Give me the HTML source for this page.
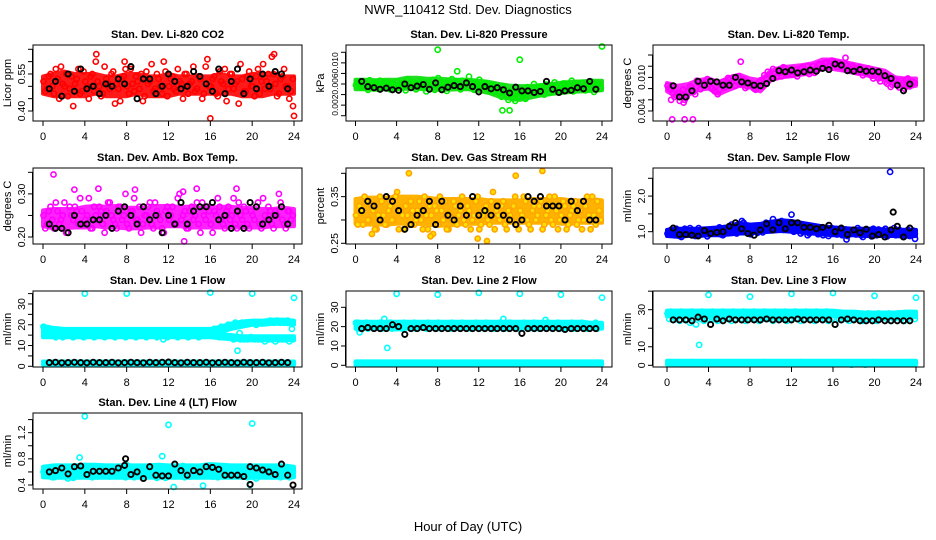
<!DOCTYPE html>
<html><head><meta charset="utf-8"><title>NWR_110412 Std. Dev. Diagnostics</title>
<style>
html,body{margin:0;padding:0;background:#fff;}
svg{display:block;font-family:"Liberation Sans",Arial,sans-serif;}
</style></head>
<body>
<svg id="chart" width="936" height="540" viewBox="0 0 936 540" xmlns="http://www.w3.org/2000/svg">
<text x="468" y="14" text-anchor="middle" font-size="13">NWR_110412  Std. Dev. Diagnostics</text>
<text x="468" y="531" text-anchor="middle" font-size="13">Hour of Day (UTC)</text>
</svg>
<script>
// ---------- data ----------
const xTicks = [0,4,8,12,16,20,24];
const envHours = [0,1,2,3,4,5,6,7,8,9,10,11,12,13,14,15,16,17,18,19,20,21,22,23,24];

const co2A = [0.52,0.49,0.55,0.47,0.53,0.58,0.50,0.46,0.54,0.51,0.57,0.48,0.52,0.45,0.55,0.60,0.50,0.47,0.53,0.49,0.56,0.51,0.44,0.54,0.50,0.57,0.48,0.52,0.55,0.46,0.51,0.59,0.49,0.53,0.47,0.56,0.50,0.54,0.48,0.52,0.45,0.55,0.51,0.58,0.49,0.53,0.47,0.61,0.50,0.54,0.46,0.52,0.57,0.49,0.55,0.51,0.43,0.53,0.48,0.56,0.50,0.54,0.47,0.59,0.52,0.49,0.55,0.46,0.53,0.57,0.50,0.48];
const co2B = [0.48,0.54,0.50,0.57,0.45,0.51,0.55,0.49,0.42,0.53,0.47,0.56,0.50,0.54,0.48,0.52,0.46,0.58,0.51,0.55,0.43,0.49,0.53,0.57,0.47,0.51,0.54,0.49,0.44,0.56,0.52,0.48,0.55,0.50,0.60,0.46,0.53,0.49,0.57,0.51,0.55,0.47,0.52,0.48,0.54,0.45,0.58,0.50,0.53,0.47,0.56,0.51,0.44,0.55,0.49,0.52,0.59,0.48,0.54,0.50,0.46,0.57,0.52,0.49,0.55,0.62,0.51,0.47,0.54,0.50,0.45,0.53];
const co2K = [0.49,0.52,0.46,0.55,0.48,0.57,0.49,0.50,0.47,0.51,0.50,0.53,0.51,0.58,0.45,0.53,0.53,0.47,0.50,0.55,0.52,0.49,0.50,0.56,0.54,0.51,0.48,0.57,0.47,0.52,0.57,0.47,0.53,0.49,0.55,0.50,0.56,0.55,0.49];
const co2OutH = [5.1,7.8,16.0,22.1,24.0,23.9];
const co2OutV = [0.63,0.60,0.37,0.63,0.38,0.42];
const co2Lo = [0.47,0.46,0.46,0.46,0.46,0.47,0.46,0.46,0.46,0.47,0.46,0.46,0.46,0.47,0.47,0.47,0.47,0.47,0.47,0.46,0.46,0.46,0.47,0.47,0.47];
const co2Hi = [0.54,0.55,0.56,0.55,0.55,0.55,0.54,0.54,0.55,0.55,0.54,0.54,0.55,0.54,0.54,0.54,0.54,0.55,0.54,0.54,0.55,0.55,0.55,0.54,0.54];

const prsA = [.0058,.0064,.0055,.0061,.0067,.0052,.0060,.0066,.0057,.0063,.0050,.0059,.0065,.0056,.0062,.0068,.0054,.0061,.0057,.0066,.0052,.0063,.0059,.0049,.0071,.0058,.0064,.0055,.0069,.0061,.0053,.0066,.0060,.0074,.0057,.0063,.0068,.0054,.0061,.0047,.0058,.0050,.0043,.0055,.0039,.0046,.0033,.0042,.0050,.0038,.0054,.0044,.0060,.0047,.0053,.0040,.0057,.0049,.0063,.0045,.0056,.0061,.0051,.0066,.0058,.0053,.0062,.0048,.0059,.0064,.0055,.0060];
const prsB = [.0063,.0053,.0060,.0049,.0056,.0062,.0051,.0058,.0064,.0055,.0061,.0057,.0053,.0060,.0048,.0058,.0064,.0050,.0062,.0055,.0046,.0059,.0068,.0056,.0052,.0062,.0047,.0060,.0056,.0065,.0050,.0058,.0054,.0062,.0049,.0060,.0055,.0062,.0050,.0057,.0045,.0052,.0036,.0048,.0030,.0041,.0028,.0037,.0044,.0032,.0047,.0052,.0041,.0055,.0046,.0059,.0043,.0051,.0056,.0048,.0061,.0050,.0057,.0046,.0062,.0055,.0050,.0058,.0053,.0045,.0060,.0052];
const prsK = [.0065,.0055,.0053,.0050,.0052,.0049,.0048,.0060,.0053,.0056,.0059,.0050,.0062,.0049,.0054,.0057,.0055,.0062,.0055,.0045,.0055,.0051,.0053,.0049,.0043,.0054,.0047,.0047,.0044,.0046,.0065,.0050,.0044,.0047,.0048,.0053,.0051,.0065,.0050];
const prsOutH = [8.0,16.0,24.0,9.9,14.3,15.0];
const prsOutV = [.0125,.0106,.0131,.0084,.0010,.0010];
const prsLo = [.0050,.0050,.0049,.0050,.0050,.0051,.0051,.0050,.0049,.0049,.0050,.0050,.0047,.0043,.0036,.0032,.0030,.0034,.0038,.0041,.0043,.0045,.0046,.0047,.0048];
const prsHi = [.0068,.0068,.0067,.0068,.0068,.0072,.0072,.0070,.0070,.0069,.0068,.0068,.0066,.0064,.0060,.0057,.0056,.0056,.0058,.0060,.0062,.0064,.0065,.0066,.0066];

const tmpA = [.0085,.0078,.0065,.0072,.0068,.0060,.0075,.0082,.0070,.0090,.0086,.0093,.0088,.0080,.0074,.0078,.0092,.0087,.0096,.0100,.0093,.0088,.0096,.0084,.0090,.0080,.0086,.0095,.0104,.0110,.0100,.0107,.0113,.0102,.0116,.0109,.0105,.0114,.0108,.0118,.0112,.0106,.0120,.0115,.0124,.0118,.0127,.0121,.0128,.0119,.0124,.0115,.0121,.0112,.0117,.0109,.0114,.0108,.0116,.0103,.0110,.0098,.0104,.0092,.0100,.0087,.0095,.0082,.0090,.0096,.0084,.0092];
const tmpB = [.0080,.0072,.0068,.0058,.0078,.0065,.0084,.0074,.0094,.0079,.0085,.0097,.0082,.0076,.0070,.0086,.0082,.0099,.0091,.0085,.0102,.0095,.0081,.0090,.0086,.0078,.0092,.0083,.0098,.0105,.0115,.0101,.0108,.0118,.0105,.0113,.0110,.0102,.0116,.0109,.0120,.0113,.0108,.0122,.0117,.0126,.0120,.0130,.0123,.0126,.0118,.0124,.0114,.0120,.0110,.0118,.0104,.0112,.0106,.0098,.0105,.0093,.0101,.0089,.0083,.0097,.0088,.0094,.0080,.0098,.0086,.0090];
const tmpK = [.0085,.0065,.0065,.0076,.0093,.0086,.0093,.0092,.0086,.0086,.0100,.0092,.0090,.0086,.0085,.0089,.0098,.0112,.0110,.0113,.0108,.0110,.0113,.0111,.0116,.0114,.0124,.0122,.0112,.0111,.0114,.0111,.0111,.0110,.0103,.0098,.0086,.0076,.0088];
const tmpOutH = [0.5,1.7,2.5,0.4,1.6,7.1,17.2];
const tmpOutV = [.0025,.0025,.0025,.0060,.0055,.0128,.0135];
const tmpLo = [.0075,.0065,.0068,.0078,.0080,.0070,.0078,.0085,.0082,.0075,.0095,.0100,.0102,.0105,.0108,.0115,.0115,.0112,.0108,.0105,.0100,.0095,.0085,.0082,.0085];
const tmpHi = [.0090,.0085,.0088,.0095,.0098,.0092,.0100,.0105,.0098,.0095,.0112,.0118,.0120,.0122,.0125,.0132,.0132,.0128,.0124,.0120,.0116,.0112,.0100,.0098,.0098];

const ambA = [.25,.23,.27,.22,.26,.24,.28,.21,.25,.27,.23,.26,.24,.29,.22,.25,.27,.23,.26,.28,.24,.22,.27,.25,.23,.26,.29,.24,.21,.25,.27,.23,.28,.25,.22,.26,.24,.27,.23,.30,.25,.22,.26,.24,.28,.21,.25,.27,.23,.26,.29,.24,.22,.27,.25,.23,.28,.24,.26,.22,.25,.27,.23,.29,.24,.26,.22,.25,.28,.23,.26,.24];
const ambB = [.22,.26,.24,.28,.23,.25,.21,.27,.24,.26,.29,.23,.25,.22,.27,.24,.26,.21,.28,.25,.23,.27,.24,.30,.22,.26,.24,.27,.23,.25,.28,.22,.26,.24,.21,.27,.25,.23,.29,.24,.26,.22,.27,.25,.23,.28,.24,.26,.21,.25,.27,.23,.26,.24,.29,.22,.25,.27,.23,.26,.24,.28,.22,.25,.27,.23,.26,.30,.24,.22,.26,.25];
const ambK = [.23,.22,.22,.21,.25,.23,.23,.24,.24,.25,.22,.26,.27,.25,.23,.27,.24,.25,.21,.25,.23,.28,.23,.26,.27,.27,.28,.24,.25,.22,.26,.22,.28,.27,.23,.24,.25,.27,.23];
const ambOutH = [1.0,3.0,5.3,8.8,13.4,14.7,18.5,13.5];
const ambOutV = [.345,.31,.312,.31,.305,.312,.312,.19];
const ambLo = [.225,.22,.22,.222,.222,.225,.222,.222,.22,.22,.222,.222,.225,.225,.222,.222,.222,.222,.222,.222,.222,.222,.225,.225,.225];
const ambHi = [.262,.265,.265,.265,.27,.272,.27,.272,.268,.268,.268,.272,.272,.27,.27,.268,.268,.27,.27,.268,.268,.265,.265,.268,.265];

const rhA = [.31,.33,.29,.34,.30,.32,.28,.35,.31,.29,.33,.30,.36,.32,.28,.31,.34,.29,.32,.30,.35,.28,.31,.33,.29,.32,.34,.28,.30,.33,.31,.35,.29,.32,.30,.34,.28,.31,.33,.29,.36,.32,.30,.34,.28,.31,.33,.29,.32,.35,.30,.28,.33,.31,.34,.29,.32,.30,.35,.28,.31,.33,.29,.32,.34,.30,.28,.33,.31,.35,.29,.32];
const rhB = [.29,.32,.35,.30,.33,.28,.31,.34,.29,.32,.30,.35,.28,.31,.33,.29,.32,.30,.34,.28,.31,.33,.27,.32,.35,.30,.28,.31,.34,.29,.32,.30,.33,.28,.31,.35,.29,.32,.30,.34,.28,.31,.33,.29,.32,.30,.35,.28,.31,.34,.29,.32,.30,.33,.28,.31,.35,.29,.32,.30,.34,.28,.31,.33,.29,.32,.30,.35,.28,.31,.34,.30];
const rhK = [.32,.34,.33,.30,.35,.34,.32,.28,.29,.31,.32,.34,.29,.34,.31,.30,.33,.31,.35,.31,.32,.31,.33,.31,.30,.29,.30,.35,.34,.35,.33,.33,.33,.30,.34,.32,.34,.30,.30];
const rhOutH = [5.2,7.3,12.8,15.6,18.2,11.9,1.6];
const rhOutV = [.40,.265,.255,.395,.405,.26,.27];
const rhLo = [.292,.29,.29,.29,.292,.292,.292,.29,.288,.288,.29,.292,.292,.294,.294,.294,.294,.294,.294,.294,.292,.292,.294,.294,.294];
const rhHi = [.345,.348,.348,.348,.35,.35,.35,.348,.345,.345,.345,.345,.345,.342,.342,.342,.342,.345,.345,.345,.345,.342,.342,.345,.342];

const sflA = [0.95,1.05,0.90,1.00,0.85,1.08,0.95,1.02,0.88,1.10,0.97,1.03,0.92,1.06,0.98,1.12,0.90,1.05,1.00,1.15,0.95,1.08,1.25,1.02,0.93,1.10,0.97,1.15,1.05,1.20,1.10,1.25,1.15,1.30,1.18,1.10,1.22,1.05,1.15,1.00,1.10,0.95,1.05,0.98,1.12,0.90,1.03,0.96,1.08,0.92,1.00,1.05,0.88,1.02,0.95,1.10,0.90,0.98,1.04,0.87,1.00,1.06,0.93,1.08,0.97,1.02,0.90,1.05,0.95,1.00,0.88,1.03];
const sflB = [1.02,0.92,1.08,0.88,1.00,0.95,1.10,0.90,1.04,0.93,1.00,0.87,1.06,0.96,1.02,0.92,1.10,0.98,1.20,1.05,1.00,1.30,1.10,0.95,1.05,1.00,1.12,0.98,1.25,1.08,1.35,1.20,1.15,1.05,1.25,1.12,1.00,1.10,0.95,1.06,0.90,1.02,1.08,0.93,1.00,1.05,0.88,1.10,0.95,1.02,0.90,1.06,0.97,1.00,0.92,1.05,0.85,1.02,0.95,1.08,0.90,0.98,1.04,0.87,1.00,1.10,0.93,1.02,0.96,1.05,0.90,0.95];
const sflK = [1.10,0.92,0.92,0.90,0.88,1.03,0.95,0.98,1.00,1.15,1.25,1.08,0.95,0.90,1.05,1.22,1.05,1.25,1.08,1.25,1.25,1.12,1.12,1.08,1.12,1.18,1.00,1.10,0.92,1.05,0.97,1.07,0.88,0.92,0.85,1.05,1.15,0.85,1.10];
const sflOutH = [21.5,12.0,17.3,23.9];
const sflOutV = [2.68,1.48,0.78,0.80];
const sflKOutH = [21.8];
const sflKOutV = [1.55];
const sflLo = [0.88,0.86,0.88,0.88,0.90,0.90,0.92,0.95,0.95,0.98,1.00,1.02,1.00,0.98,0.95,0.92,0.90,0.90,0.90,0.88,0.88,0.88,0.88,0.86,0.88];
const sflHi = [1.05,1.08,1.08,1.08,1.10,1.12,1.15,1.25,1.20,1.22,1.28,1.32,1.30,1.25,1.20,1.15,1.12,1.10,1.08,1.08,1.08,1.06,1.06,1.05,1.05];

const l1A = [19,18,18,17,17,16,17,16,17,16,17,16,17,16,17,16,16,17,16,16,17,16,16,17,16,16,17,16,16,17,16,16,17,16,16,17,16,17,16,16,17,16,16,17,16,16,17,17,17,18,18,19,19,20,20,21,20,21,21,21,21,20,21,21,21,22,21,22,21,21,22,21];
const l1B = [18,15,15,14,15,14,15,15,14,15,15,14,15,15,14,15,15,14,15,15,14,15,15,14,15,15,14,15,15,14,15,15,14,15,15,14,15,15,14,15,15,14,15,15,14,15,15,15,15,15,14,15,14,14,13,14,13,13,13,14,13,13,13,12,13,13,12,13,13,13,12,13];
const l1C = [1.4,1.6,1.2,1.5,1.7,1.3,1.5,1.4,1.6,1.2,1.5,1.7,1.3,1.5,1.4,1.6,1.2,1.5,1.7,1.3,1.5,1.4,1.6,1.2,1.5,1.7,1.3,1.5,1.4,1.6,1.2,1.5,1.7,1.3,1.5,1.4,1.6,1.2,1.5,1.7,1.3,1.5,1.4,1.6,1.2,1.5,1.7,1.3];
const l1K = [1.8,1.9,1.7,1.8,1.9,1.8,1.7,1.9,1.8,1.8,1.9,1.7,1.8,1.9,1.8,1.7,1.9,1.8,1.9,2.0,1.8,1.7,1.9,1.8,1.8,1.9,1.7,1.8,1.9,1.8,1.7,1.9,1.8,1.8,1.9,1.7,1.8,1.9,1.8];
const l1OutH = [4,8,12,16,20,24,18.6,18.8,23.8,11.5];
const l1OutV = [35,35,36,35.5,35,33,7.5,16,18,13];
const l1UpLo = [16,15.5,15.5,15.5,15.5,15.5,15.5,15.5,15.5,15.5,15.5,15.5,15.5,15.5,15.5,15.5,15.5,16.5,18,19,20,20,20.5,20.5,20];
const l1UpHi = [19.5,18.5,18,18,18,18,18,18,18,18,18,18,18,18,18,18,18,19,20.5,21.5,22,22,22.5,22.5,22];
const l1DnLo = [14,14,14,14,14,14,14,14,14,14,14,14,14,14,14,14,14,13.5,13,12.5,12.5,12.5,12.5,12.5,12.5];
const l1DnHi = [16,16,16,16,16,16,16,16,16,16,16,16,16,16,16,16,16,15.5,15,14.5,14.5,14.5,14.5,14.5,14.5];
const l1LoLo = [0.8,0.8,0.8,0.8,0.8,0.8,0.8,0.8,0.8,0.8,0.8,0.8,0.8,0.8,0.8,0.8,0.8,0.8,0.8,0.8,0.8,0.8,0.8,0.8,0.8];
const l1LoHi = [2.3,2.3,2.3,2.3,2.3,2.3,2.3,2.3,2.3,2.3,2.3,2.3,2.3,2.3,2.3,2.3,2.3,2.3,2.3,2.3,2.3,2.3,2.3,2.3,2.3];

const l2A = [22,21,20,22,21,20,21,22,20,21,22,21,20,21,22,20,21,22,21,20,21,22,20,21,22,21,20,21,22,20,21,22,21,20,21,22,20,21,22,21,20,21,22,20,21,22,21,20,21,22,20,21,22,21,20,21,22,20,21,22,21,20,21,22,20,21,22,21,20,21,22,20];
const l2B = [19,20,21,19,20,21,20,19,21,20,19,20,21,19,20,21,20,19,21,20,19,20,21,19,20,21,20,19,21,20,19,20,21,19,20,21,20,19,21,20,19,20,21,19,20,21,20,19,21,20,19,20,21,19,20,21,20,19,21,20,19,20,21,19,20,21,20,19,21,20,19,20];
const l2C = [1.0,1.2,0.8,1.1,0.9,1.0,1.2,0.8,1.1,0.9,1.0,1.2,0.8,1.1,0.9,1.0,1.2,0.8,1.1,0.9,1.0,1.2,0.8,1.1,0.9,1.0,1.2,0.8,1.1,0.9,1.0,1.2,0.8,1.1,0.9,1.0,1.2,0.8,1.1,0.9,1.0,1.2,0.8,1.1,0.9,1.0,1.2,0.8];
const l2K = [19,19.5,19,19,19,21,20,16,19,19,19.5,19,19,19,19,19,19,19,19,19,19,19,19,19,19,19,16.5,19,19,19,19,19,19,18.5,19,19,19,19,19];
const l2OutH = [4,8,12,16,20,24,3.1,2.8,14.4,18.5,0.2,0.4];
const l2OutV = [37,36.5,37.5,37,36.5,35,9,24,24,23.5,22,17];
const l2BandLo = [19,19,19,19,18.5,19,19,19,19,19,19,19,19,19,19,19,19,19,19,19,19,19,19,19,19];
const l2BandHi = [22.5,22.5,22.5,22.5,22.5,22.5,22.5,22.5,22.5,22.5,22.5,22.5,22.5,22.5,22.5,22.5,22.5,22.5,22.5,22.5,22.5,22.5,22.5,22,22];
const l2LowLo = [0.2,0.2,0.2,0.2,0.2,0.2,0.2,0.2,0.2,0.2,0.2,0.2,0.2,0.2,0.2,0.2,0.2,0.2,0.2,0.2,0.2,0.2,0.2,0.2,0.2];
const l2LowHi = [2.0,2.0,2.0,2.0,2.0,2.0,2.0,2.0,2.0,2.0,2.0,2.0,2.0,2.0,2.0,2.0,2.0,2.0,2.0,2.0,2.0,2.0,2.0,2.0,2.0];

const l3A = [28,29,28,27,29,28,28,29,27,28,29,28,28,29,28,27,29,28,28,29,27,28,29,28,28,29,28,27,29,28,28,29,27,28,29,28,28,29,28,27,29,28,28,29,27,28,29,28,28,27,28,27,28,27,27,28,27,27,28,27,27,28,27,27,28,27,27,28,27,28,28,27];
const l3B = [25,26,25,24,26,25,23,25,26,25,24,25,26,25,24,25,26,25,24,25,26,25,24,25,26,25,24,25,26,25,24,25,26,25,24,25,26,25,24,25,26,25,24,25,26,25,24,25,22,25,26,25,24,25,26,25,24,25,26,25,24,25,26,25,24,25,26,25,24,25,26,25];
const l3C = [1.3,1.6,1.1,1.4,1.7,1.2,1.5,1.3,1.6,1.1,1.4,1.7,1.2,1.5,1.3,1.6,1.1,1.4,1.7,1.2,1.5,1.3,1.6,1.1,1.4,1.7,1.2,1.5,1.3,1.6,1.1,1.4,1.7,1.2,1.5,1.3,1.6,1.1,1.4,1.7,1.2,1.5,1.3,1.6,1.1,1.4,1.7,1.2];
const l3K = [24.5,24.5,24.5,24,26,25,22,25,24,25,24.5,24.5,24.5,24.5,24.5,25,24.5,24.5,24.5,24.5,25,24.5,24.5,24.5,24.5,24.5,22,24.5,25,24.5,24,24,24,24.5,24,24,24,24,24];
const l3OutH = [4,8,12,16,20,24,3.1,2.8,17.8,19.1];
const l3OutV = [38,37,38.5,39,37.5,36.5,11,22,0.3,0.3];
const l3BandLo = [26.5,26.5,26.5,26.5,26.5,26.5,26.5,26.5,26.5,26.5,26.5,26.5,26.5,26.5,26.5,26.5,26.5,26.5,26,26,26,26,26,26,26];
const l3BandHi = [29.5,29.5,29.5,29.5,29.5,29.5,29.5,29.5,29.5,29.5,29.5,29.5,29.5,29.5,29.5,29.5,29.5,29,29,28.5,28.5,28.5,28.5,29,29];
const l3LowLo = [0.4,0.4,0.4,0.4,0.4,0.4,0.4,0.4,0.4,0.4,0.4,0.4,0.4,0.4,0.4,0.4,0.4,0.4,0.4,0.4,0.4,0.4,0.4,0.4,0.4];
const l3LowHi = [2.4,2.4,2.4,2.4,2.4,2.4,2.4,2.4,2.4,2.4,2.4,2.4,2.4,2.4,2.4,2.4,2.4,2.4,2.4,2.4,2.4,2.4,2.4,2.4,2.4];

const l4A = [0.60,0.55,0.65,0.52,0.68,0.58,0.62,0.50,0.66,0.57,0.63,0.54,0.69,0.59,0.52,0.64,0.56,0.61,0.67,0.53,0.60,0.65,0.55,0.62,0.70,0.57,0.52,0.64,0.59,0.66,0.54,0.61,0.68,0.56,0.63,0.51,0.65,0.58,0.62,0.55,0.69,0.60,0.53,0.64,0.57,0.61,0.66,0.54,0.59,0.63,0.52,0.67,0.58,0.61,0.55,0.64,0.60,0.53,0.66,0.57,0.62,0.50,0.65,0.59,0.54,0.63,0.57,0.61,0.52,0.66,0.58,0.55];
const l4B = [0.56,0.63,0.52,0.60,0.66,0.54,0.59,0.64,0.51,0.62,0.57,0.67,0.55,0.61,0.65,0.53,0.60,0.56,0.63,0.68,0.54,0.58,0.62,0.52,0.65,0.60,0.66,0.55,0.61,0.53,0.64,0.57,0.51,0.62,0.59,0.67,0.54,0.60,0.65,0.56,0.52,0.63,0.58,0.61,0.66,0.55,0.59,0.63,0.53,0.57,0.64,0.60,0.54,0.62,0.67,0.56,0.59,0.65,0.52,0.61,0.57,0.63,0.55,0.60,0.66,0.53,0.58,0.62,0.56,0.64,0.52,0.60];
const l4K = [0.60,0.62,0.66,0.57,0.68,0.69,0.56,0.61,0.61,0.61,0.61,0.66,0.70,0.56,0.60,0.50,0.68,0.55,0.54,0.54,0.72,0.62,0.55,0.62,0.60,0.68,0.67,0.64,0.55,0.55,0.55,0.53,0.68,0.66,0.63,0.60,0.56,0.72,0.55];
const l4OutH = [4.0,12.0,20.0,11.4,3.5,12.5,15.3,19.8];
const l4OutV = [1.45,1.32,1.34,0.84,0.82,0.37,0.39,0.40];
const l4KOutH = [7.9,19.8,23.9];
const l4KOutV = [0.80,0.41,0.40];
const l4Lo = [0.52,0.51,0.51,0.51,0.51,0.51,0.51,0.51,0.51,0.51,0.51,0.51,0.51,0.51,0.51,0.51,0.51,0.51,0.51,0.51,0.51,0.51,0.51,0.51,0.52];
const l4Hi = [0.68,0.70,0.70,0.70,0.71,0.71,0.70,0.70,0.70,0.70,0.70,0.71,0.70,0.70,0.70,0.70,0.72,0.71,0.70,0.70,0.70,0.70,0.70,0.70,0.68];

// ---------- layout / style (not data) ----------
const COLS = [{L:33,R:302,x0:43,x24:294},{L:346,R:612,x0:355.5,x24:602},{L:653,R:924,x0:667,x24:916}];
const ROWS = [{T:45,B:121},{T:168,B:244},{T:291,B:367},{T:413,B:489}];

const panels = [
 {name:'co2',title:'Stan. Dev. Li-820 CO2',ylab:'Licor ppm',c:0,r:0,ylo:0.3595,yhi:0.6674,ticks:[0.40,0.45,0.50,0.55,0.60,0.65],labels:['0.40','0.55'],lfs:10.5,col:'#ff0000',fill:'none',band:'#ff1a1a',env:[[co2Lo,co2Hi]],series:[co2A,co2B],black:co2K,outH:co2OutH,outV:co2OutV},
 {name:'pressure',title:'Stan. Dev. Li-820 Pressure',ylab:'kPa',c:1,r:0,ylo:-0.0010,yhi:0.01338,ticks:[0,0.002,0.004,0.006,0.008,0.010,0.012],labels:['0.002','0.006','0.010'],lfs:8.5,col:'#00ee00',fill:'none',band:'#22dd22',env:[[prsLo,prsHi]],series:[prsA,prsB],black:prsK,outH:prsOutH,outV:prsOutV},
 {name:'temp',title:'Stan. Dev. Li-820 Temp.',ylab:'degrees C',c:2,r:0,ylo:0.00221,yhi:0.01579,ticks:[0.004,0.006,0.008,0.010,0.012,0.014],labels:['0.004','0.010'],lfs:10,col:'#ff00ff',fill:'none',band:'#ff22ff',env:[[tmpLo,tmpHi]],series:[tmpA,tmpB],black:tmpK,outH:tmpOutH,outV:tmpOutV},
 {name:'amb-box-temp',title:'Stan. Dev. Amb. Box Temp.',ylab:'degrees C',c:0,r:1,ylo:0.1838,yhi:0.36,ticks:[0.20,0.25,0.30,0.35],labels:['0.20','0.30'],lfs:10.5,col:'#ff00ff',fill:'none',band:'#ff22ff',env:[[ambLo,ambHi]],series:[ambA,ambB],black:ambK,outH:ambOutH,outV:ambOutV},
 {name:'gas-stream-rh',title:'Stan. Dev. Gas Stream RH',ylab:'percent',c:1,r:1,ylo:0.2485,yhi:0.4114,ticks:[0.25,0.30,0.35,0.40],labels:['0.25','0.35'],lfs:10.5,col:'#ffa500',fill:'#ffe000',band:'#ffb300',env:[[rhLo,rhHi]],series:[rhA,rhB],black:rhK,outH:rhOutH,outV:rhOutV},
 {name:'sample-flow',title:'Stan. Dev. Sample Flow',ylab:'ml/min',c:2,r:1,ylo:0.654,yhi:2.789,ticks:[1.0,1.5,2.0,2.5],labels:['1.0','2.0'],lfs:10.5,col:'#0000ff',fill:'none',band:'#0000ff',env:[[sflLo,sflHi]],series:[sflA,sflB],black:sflK,outH:sflOutH,outV:sflOutV,kOutH:sflKOutH,kOutV:sflKOutV},
 {name:'line1-flow',title:'Stan. Dev. Line 1 Flow',ylab:'ml/min',c:0,r:2,ylo:-0.34,yhi:36.26,ticks:[0,5,10,15,20,25,30,35],labels:['0','10','20','30'],lfs:10.5,col:'#00ffff',fill:'none',band:'#00ffff',env:[[l1UpLo,l1UpHi],[l1DnLo,l1DnHi],[l1LoLo,l1LoHi]],series:[l1A,l1B,l1C],black:l1K,outH:l1OutH,outV:l1OutV},
 {name:'line2-flow',title:'Stan. Dev. Line 2 Flow',ylab:'ml/min',c:1,r:2,ylo:-0.88,yhi:38.43,ticks:[0,10,20,30],labels:['0','10','20','30'],lfs:10.5,col:'#00ffff',fill:'none',band:'#00ffff',env:[[l2BandLo,l2BandHi],[l2LowLo,l2LowHi]],series:[l2A,l2B,l2C],black:l2K,outH:l2OutH,outV:l2OutV},
 {name:'line3-flow',title:'Stan. Dev. Line 3 Flow',ylab:'ml/min',c:2,r:2,ylo:-0.92,yhi:40.09,ticks:[0,10,20,30,40],labels:['0','10','30'],lfs:10.5,col:'#00ffff',fill:'none',band:'#00ffff',env:[[l3BandLo,l3BandHi],[l3LowLo,l3LowHi]],series:[l3A,l3B,l3C],black:l3K,outH:l3OutH,outV:l3OutV},
 {name:'line4-flow',title:'Stan. Dev. Line 4 (LT) Flow',ylab:'ml/min',c:0,r:3,ylo:0.339,yhi:1.501,ticks:[0.4,0.6,0.8,1.0,1.2,1.4],labels:['0.4','0.8','1.2'],lfs:10.5,col:'#00ffff',fill:'none',band:'#00ffff',env:[[l4Lo,l4Hi]],series:[l4A,l4B],black:l4K,outH:l4OutH,outV:l4OutV,kOutH:l4KOutH,kOutV:l4KOutV}
];

const NS = 'http://www.w3.org/2000/svg';
const svg = document.getElementById('chart');
function mk(tag, attrs, parent){
  const e = document.createElementNS(NS, tag);
  for (const k in attrs) e.setAttribute(k, attrs[k]);
  parent.appendChild(e);
  return e;
}

panels.forEach(p => {
  const C = COLS[p.c], R = ROWS[p.r];
  const xs = h => C.x0 + (C.x24 - C.x0) * h / 24;
  const ys = v => R.B - (v - p.ylo) / (p.yhi - p.ylo) * (R.B - R.T);
  const g = mk('g', {}, svg);
  
  

  const t = mk('text', {x:(C.L+C.R)/2, y:R.T-7, 'text-anchor':'middle', 'font-size':'11', 'font-weight':'bold'}, g);
  t.textContent = p.title;
  
  

  p.env.forEach(pair => {
    const lo = pair[0], hi = pair[1];
    const top = envHours.map((h, i) => xs(h).toFixed(1) + ',' + ys(hi[i]).toFixed(1));
    const bot = envHours.map((h, i) => xs(h).toFixed(1) + ',' + ys(lo[i]).toFixed(1)).reverse();
    const poly = mk('polygon', {points: top.concat(bot).join(' '), fill:p.band, stroke:p.band, 'stroke-width':4, 'stroke-linejoin':'round'}, g);
    
    
  });

  const pts = mk('g', {}, g);
  
  
  function dot(h, v, stroke, fill, nm, sw){
    const y = ys(v);
    if (y < R.T + 1 || y > R.B - 1) return;
    const c = mk('circle', {cx:xs(h).toFixed(1), cy:y.toFixed(1), r:2.6, fill:fill, stroke:stroke, 'stroke-width':sw}, pts);
    
    
  }
  p.series.forEach((arr, si) => {
    const n = arr.length;
    arr.forEach((v, i) => dot(i * 24 / n + si * 0.17 + 0.05, v, p.col, p.fill, 'data-point', 1.6));
  });
  p.outH.forEach((h, i) => dot(h, p.outV[i], p.col, p.fill, 'outlier-point', 1.6));
  p.black.forEach((v, i) => dot(0.6 + i * 0.6, v, '#000', 'none', 'diagnostic-point', 1.9));
  if (p.kOutH) p.kOutH.forEach((h, i) => dot(h, p.kOutV[i], '#000', 'none', 'diagnostic-point', 1.9));

  const box = mk('rect', {x:C.L, y:R.T, width:C.R-C.L, height:R.B-R.T, fill:'none', stroke:'#000', 'stroke-width':1}, g);
  
  

  const xa = mk('g', {}, g);
  
  
  xTicks.forEach(h => {
    const x = xs(h);
    mk('line', {x1:x, x2:x, y1:R.B, y2:R.B+5, stroke:'#000'}, xa);
    const tl = mk('text', {x:x, y:R.B+19, 'text-anchor':'middle', 'font-size':'11'}, xa);
    tl.textContent = String(h);
    
    
  });

  const ya = mk('g', {}, g);
  
  
  const t0 = ys(p.ticks[0]), t1 = ys(p.ticks[p.ticks.length-1]);
  mk('line', {x1:C.L-0.5, x2:C.L-0.5, y1:t0, y2:t1, stroke:'#000'}, ya);
  p.ticks.forEach(v => {
    const y = ys(v);
    mk('line', {x1:C.L, x2:C.L-5, y1:y, y2:y, stroke:'#000'}, ya);
  });
  p.labels.forEach(s => {
    const y = ys(parseFloat(s));
    const lx = C.L - 8;
    const tl = mk('text', {x:lx, y:y, 'text-anchor':'middle', 'font-size':p.lfs, transform:'rotate(-90 '+lx+' '+y+')'}, ya);
    tl.textContent = s;
    
    
  });
  const mx = C.L - 22, my = (R.T + R.B) / 2;
  const yt = mk('text', {x:mx, y:my, 'text-anchor':'middle', 'font-size':'11', transform:'rotate(-90 '+mx+' '+my+')'}, g);
  yt.textContent = p.ylab;
  
  
});
</script>
</body></html>
